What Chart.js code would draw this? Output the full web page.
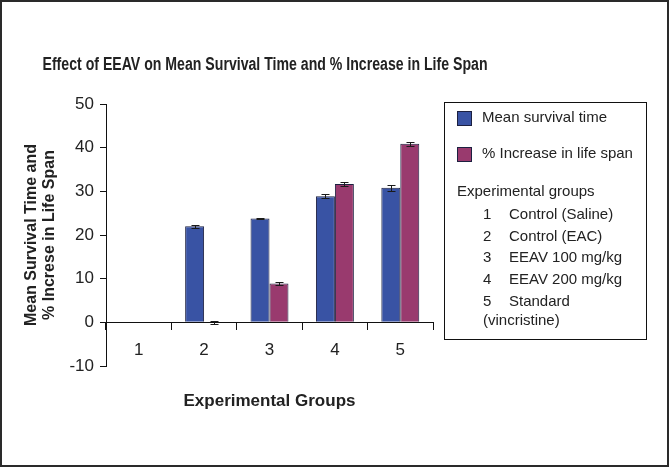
<!DOCTYPE html>
<html>
<head>
<meta charset="utf-8">
<script src="https://cdn.jsdelivr.net/npm/chart.js@4.4.1/dist/chart.umd.min.js"></script>
<style>
  html, body { margin: 0; padding: 0; background: #fff; }
  #wrap { width: 669px; height: 467px; position: relative; }
</style>
</head>
<body>
<div id="wrap"><canvas id="chart"></canvas></div>
<script>
// data
const chartTitle = 'Effect of EEAV on Mean Survival Time and % Increase in Life Span';
const groups = ['1', '2', '3', '4', '5'];
const groupNames = ['Control (Saline)', 'Control (EAC)', 'EEAV 100 mg/kg', 'EEAV 200 mg/kg', 'Standard'];
const seriesLabels = ['Mean survival time', '% Increase in life span'];
const meanSurvival = [null, 22.0, 23.8, 28.9, 30.8];
const meanSurvivalErr = [null, 0.3, 0.2, 0.45, 0.7];
const ilsPercent = [null, 0, 8.9, 31.7, 40.9];
const ilsErr = [null, 0.4, 0.35, 0.55, 0.45];
const yMin = -10, yMax = 50, yStep = 10;

const FONT = "'Liberation Sans', Arial, sans-serif";
const TEXT = '#222';

// white page with a frame and the title
const frame = {
  id: 'frame',
  beforeDraw(chart) {
    const ctx = chart.ctx;
    ctx.save();
    ctx.fillStyle = '#fff';
    ctx.fillRect(0, 0, chart.width, chart.height);
    ctx.restore();
  },
  afterDraw(chart) {
    const ctx = chart.ctx;
    ctx.save();
    ctx.strokeStyle = '#2a2a2a';
    ctx.lineWidth = 2;
    ctx.strokeRect(1, 1, chart.width - 2, chart.height - 2);
    // title, narrow bold
    ctx.font = 'bold 18px ' + FONT;
    ctx.fillStyle = TEXT;
    ctx.textBaseline = 'middle';
    ctx.textAlign = 'center';
    const w = ctx.measureText(chartTitle).width;
    const sx = 445 / w;
    ctx.translate(265, 65);
    ctx.scale(sx, 1);
    ctx.fillText(chartTitle, 0, 0);
    ctx.restore();
  }
};

const errorBars = {
  id: 'errorBars',
  afterDatasetsDraw(chart) {
    const ctx = chart.ctx;
    const y = chart.scales.y;
    ctx.save();
    ctx.strokeStyle = '#1a1a1a';
    ctx.lineWidth = 1;
    chart.data.datasets.forEach((ds, i) => {
      const meta = chart.getDatasetMeta(i);
      meta.data.forEach((bar, j) => {
        const v = ds.data[j], e = ds.errors[j];
        if (v == null || e == null) return;
        const x = Math.round(bar.x) + 0.5;
        const top = Math.round(y.getPixelForValue(v + e)) + 0.5;
        const bot = Math.round(y.getPixelForValue(v - e)) + 0.5;
        ctx.beginPath();
        ctx.moveTo(x, top); ctx.lineTo(x, bot);
        ctx.moveTo(x - 4, top); ctx.lineTo(x + 4, top);
        ctx.moveTo(x - 4, bot); ctx.lineTo(x + 4, bot);
        ctx.stroke();
      });
    });
    ctx.restore();
  }
};

// legend box with the group key
const legendBox = {
  id: 'legendBox',
  afterDraw(chart) {
    const ctx = chart.ctx;
    ctx.save();
    ctx.strokeStyle = '#111';
    ctx.lineWidth = 1;
    ctx.strokeRect(444.5, 102.5, 202, 237);
    ctx.font = '15px ' + FONT;
    ctx.fillStyle = TEXT;
    ctx.textBaseline = 'middle';
    ctx.textAlign = 'left';
    chart.data.datasets.forEach((ds, i) => {
      const yy = 118 + i * 36;
      ctx.fillStyle = ds.backgroundColor;
      ctx.fillRect(457, yy - 7, 15, 15);
      ctx.strokeStyle = '#1c2040';
      ctx.strokeRect(457.5, yy - 6.5, 14, 14);
      ctx.fillStyle = TEXT;
      ctx.fillText(ds.label, 482, yy);
    });
    ctx.fillText('Experimental groups', 457, 192);
    groupNames.forEach((name, i) => {
      const yy = 215 + i * 21.6;
      ctx.fillText(groups[i], 483, yy);
      ctx.fillText(name, 509, yy);
    });
    ctx.fillText('(vincristine)', 483, 321);
    ctx.restore();
  }
};

new Chart(document.getElementById('chart'), {
  type: 'bar',
  data: {
    labels: groups,
    datasets: [{
      label: seriesLabels[0],
      data: meanSurvival,
      errors: meanSurvivalErr,
      backgroundColor: '#3953a4',
      borderColor: '#1c2040',
      borderWidth: 1
    }, {
      label: seriesLabels[1],
      data: ilsPercent,
      errors: ilsErr,
      backgroundColor: '#993a6e',
      borderColor: '#1c2040',
      borderWidth: 1
    }]
  },
  options: {
    responsive: true,
    maintainAspectRatio: false,
    animation: false,
    devicePixelRatio: 1,
    layout: { padding: { left: 14, top: 104, right: 236, bottom: 101 } },
    datasets: { bar: { categoryPercentage: 0.58, barPercentage: 1.0 } },
    plugins: {
      legend: { display: false },
      title: { display: false },
      tooltip: { enabled: false }
    },
    scales: {
      x: {
        position: { y: 0 },
        grid: { display: true, offset: true, drawOnChartArea: false, tickLength: 7, color: '#111' },
        border: { display: true, color: '#111', width: 1 },
        ticks: { font: { family: FONT, size: 17 }, color: TEXT, padding: 11 },
        title: {
          display: true, text: 'Experimental Groups', color: TEXT,
          font: { family: FONT, size: 17, weight: 'bold' },
          padding: { top: 19, bottom: 0 }
        }
      },
      y: {
        min: yMin, max: yMax,
        afterFit(scale) { scale.width = 92; },
        grid: { display: true, drawOnChartArea: false, tickLength: 6, color: '#111' },
        border: { display: true, color: '#111', width: 1 },
        ticks: { stepSize: yStep, font: { family: FONT, size: 17 }, color: TEXT, padding: 6 },
        title: {
          display: true,
          text: ['Mean Survival Time and', '% Increse in Life Span'],
          color: TEXT,
          font: { family: FONT, size: 16, weight: 'bold', lineHeight: 1.125 },
          padding: { top: 9, bottom: 0 }
        }
      }
    }
  },
  plugins: [frame, errorBars, legendBox]
});
</script>
</body>
</html>
